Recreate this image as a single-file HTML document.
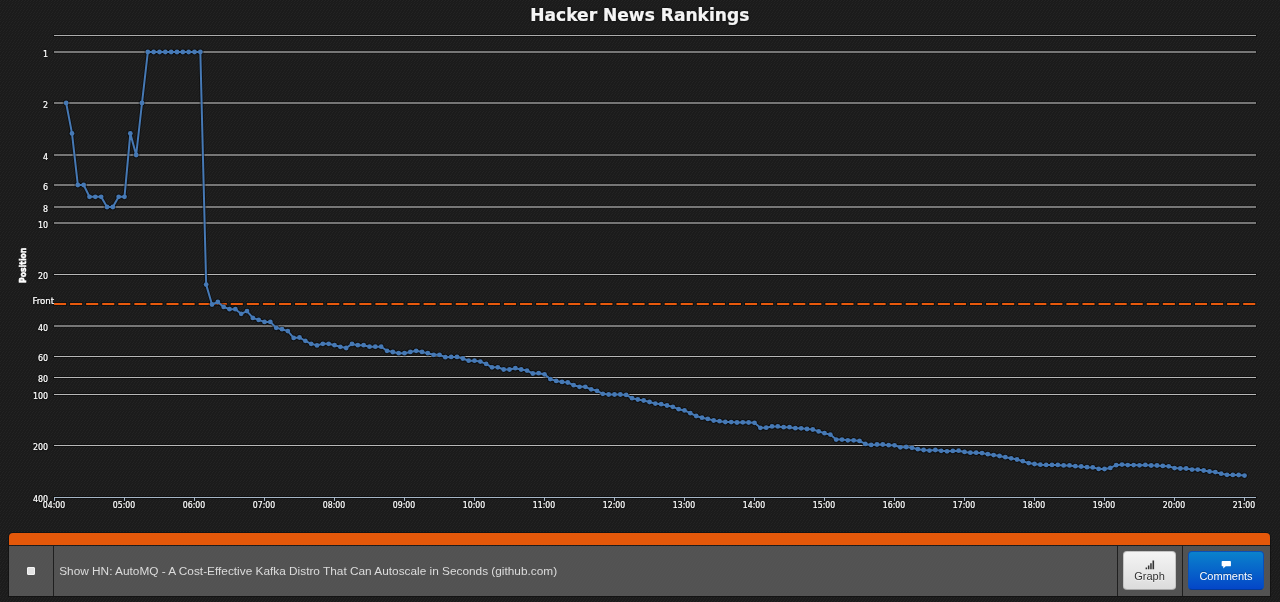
<!DOCTYPE html>
<html lang="en">
<head>
<meta charset="utf-8">
<title>Hacker News Rankings</title>
<style>
html,body{margin:0;padding:0}
body{position:relative;width:1280px;height:602px;overflow:hidden;background-color:#1d1d1d;
font-family:"Liberation Sans",Arial,Helvetica,sans-serif;font-size:13px;line-height:18px;color:#ddd}
.tex{position:absolute;left:0;top:0;display:block}
.chart{position:absolute;left:0;top:0;display:block;will-change:transform}
.chart text{stroke:#fff;stroke-width:.22px;filter:drop-shadow(0 0 .8px rgba(0,0,0,.9))}
.bar{position:absolute;left:9px;top:533px;width:1261px;height:63px;border-radius:4px 4px 0 0;box-shadow:0 0 0 1px #131313;will-change:transform}
.strip{position:absolute;left:0;top:0;width:100%;height:12px;background:#e4580a;border-radius:4px 4px 0 0}
.row{position:absolute;left:0;top:13px;width:100%;height:50px;background:rgba(92,92,92,.86)}
.cell{position:absolute;top:0;height:50px;border-left:1px solid #1f1f1f;box-sizing:border-box}
.c1{left:0;width:44px;border-left:0}
.c2{left:44px;width:1064px}
.c3{left:1108px;width:65px}
.c4{left:1173px;width:88px}
.chk{position:absolute;left:17.5px;top:20.5px;width:8.5px;height:8.5px;box-sizing:border-box;background:#e4e4e4;border:1px solid #f4f4f4;border-radius:1px}
.story{position:absolute;left:5.2px;top:15.5px;white-space:nowrap;color:#dcdcdc;font-size:11.84px;line-height:18px}
.btn{position:absolute;top:5px;height:39px;box-sizing:border-box;border-radius:4px;text-align:center;font-size:11px;line-height:16px}
.btn span{position:absolute;left:0;right:0;top:16px}
.btn svg{position:absolute;top:8px}
.b1{left:5px;width:53px;color:#333;text-shadow:0 1px 1px rgba(255,255,255,.75);background-image:linear-gradient(to bottom,#f4f4f4,#dcdcdc);border:1px solid #c4c4c4;border-bottom-color:#a8a8a8}
.b2{left:5px;width:76px;color:#fff;text-shadow:0 -1px 0 rgba(0,0,0,.25);background-image:linear-gradient(to bottom,#0a82cc,#0446c8);border:1px solid #0a50b8;border-bottom-color:#053a9a}
</style>
</head>
<body>
<svg class="tex" width="1280" height="602" shape-rendering="crispEdges">
<defs><pattern id="tw" width="6" height="6" patternUnits="userSpaceOnUse">
<rect width="6" height="6" fill="#1b1b1b"/>
<path fill="#1d1d1d" d="M1 2h1v1h-1zM2 2h1v1h-1zM4 2h1v1h-1zM5 2h1v1h-1zM1 5h1v1h-1zM2 5h1v1h-1zM4 5h1v1h-1zM5 5h1v1h-1z"/>
<path fill="#232323" d="M1 0h1v1h-1zM4 0h1v1h-1zM0 1h1v1h-1zM3 1h1v1h-1zM0 3h1v1h-1zM3 3h1v1h-1zM2 4h1v1h-1zM5 4h1v1h-1z"/>
</pattern></defs><rect width="1280" height="602" fill="url(#tw)"/></svg>
<svg class="chart" width="1280" height="528" viewBox="0 0 1280 528">
<text x="639.8" y="20.8" text-anchor="middle" font-family='"DejaVu Sans Condensed","DejaVu Sans","Liberation Sans",sans-serif' font-size="18" font-weight="bold" fill="#f4f4f4" textLength="219" lengthAdjust="spacingAndGlyphs">Hacker News Rankings</text>
<g stroke="#000" stroke-opacity=".38" stroke-width="3" fill="none">
<path d="M53.0 35.5H1257.0"/>
<path d="M53.0 52.00H1257.0"/>
<path d="M53.0 103.00H1257.0"/>
<path d="M53.0 155.00H1257.0"/>
<path d="M53.0 185.00H1257.0"/>
<path d="M53.0 207.00H1257.0"/>
<path d="M53.0 223.00H1257.0"/>
<path d="M53.0 274.50H1257.0"/>
<path d="M53.0 326.00H1257.0"/>
<path d="M53.0 356.50H1257.0"/>
<path d="M53.0 377.50H1257.0"/>
<path d="M53.0 394.50H1257.0"/>
<path d="M53.0 445.50H1257.0"/>
<path d="M53.0 497.5H1257.0"/>
</g>
<path d="M53.0 304.1H1257.0" stroke="#000" stroke-opacity=".38" stroke-width="4" stroke-dasharray="14.06,2.01" fill="none"/>
<g stroke="#b8b8b8" stroke-width="1" fill="none">
<path d="M54.0 35.5H1256.0" stroke="#adadad"/>
<path d="M54.0 52.00H1256.0" stroke="#dadada"/>
<path d="M54.0 103.00H1256.0" stroke="#dadada"/>
<path d="M54.0 155.00H1256.0" stroke="#dadada"/>
<path d="M54.0 185.00H1256.0" stroke="#dadada"/>
<path d="M54.0 207.00H1256.0" stroke="#dadada"/>
<path d="M54.0 223.00H1256.0" stroke="#dadada"/>
<path d="M54.0 274.50H1256.0"/>
<path d="M54.0 326.00H1256.0" stroke="#dadada"/>
<path d="M54.0 356.50H1256.0"/>
<path d="M54.0 377.50H1256.0"/>
<path d="M54.0 394.50H1256.0"/>
<path d="M54.0 445.50H1256.0"/>
</g>
<path d="M54.0 304.1H1256.0" stroke="#e8590c" stroke-width="2" stroke-dasharray="12.06,4.01" fill="none"/>
<g stroke="#a6b6c6" stroke-width="1" fill="none">
<path d="M54.0 497.5H1256.0"/>
<path d="M54.5 497.5V501"/>
<path d="M124.5 497.5V501"/>
<path d="M194.5 497.5V501"/>
<path d="M264.5 497.5V501"/>
<path d="M334.5 497.5V501"/>
<path d="M404.5 497.5V501"/>
<path d="M474.5 497.5V501"/>
<path d="M544.5 497.5V501"/>
<path d="M614.5 497.5V501"/>
<path d="M684.5 497.5V501"/>
<path d="M754.5 497.5V501"/>
<path d="M824.5 497.5V501"/>
<path d="M894.5 497.5V501"/>
<path d="M964.5 497.5V501"/>
<path d="M1034.5 497.5V501"/>
<path d="M1104.5 497.5V501"/>
<path d="M1174.5 497.5V501"/>
<path d="M1244.5 497.5V501"/>
</g>
<g font-family='"DejaVu Sans Condensed","DejaVu Sans","Liberation Sans",sans-serif' font-size="8.8" fill="#ffffff" text-anchor="end">
<text x="48" y="56.9">1</text>
<text x="48" y="107.9">2</text>
<text x="48" y="159.9">4</text>
<text x="48" y="189.9">6</text>
<text x="48" y="211.9">8</text>
<text x="48" y="227.9">10</text>
<text x="48" y="279.4">20</text>
<text x="48" y="330.9">40</text>
<text x="48" y="361.4">60</text>
<text x="48" y="382.4">80</text>
<text x="48" y="399.4">100</text>
<text x="48" y="450.4">200</text>
<text x="48" y="501.9">400</text>
</g>
<g font-family='"DejaVu Sans Condensed","DejaVu Sans","Liberation Sans",sans-serif' font-size="9" fill="#ffffff" text-anchor="middle">
<text x="54" y="508" textLength="22.4" lengthAdjust="spacingAndGlyphs">04:00</text>
<text x="124" y="508" textLength="22.4" lengthAdjust="spacingAndGlyphs">05:00</text>
<text x="194" y="508" textLength="22.4" lengthAdjust="spacingAndGlyphs">06:00</text>
<text x="264" y="508" textLength="22.4" lengthAdjust="spacingAndGlyphs">07:00</text>
<text x="334" y="508" textLength="22.4" lengthAdjust="spacingAndGlyphs">08:00</text>
<text x="404" y="508" textLength="22.4" lengthAdjust="spacingAndGlyphs">09:00</text>
<text x="474" y="508" textLength="22.4" lengthAdjust="spacingAndGlyphs">10:00</text>
<text x="544" y="508" textLength="22.4" lengthAdjust="spacingAndGlyphs">11:00</text>
<text x="614" y="508" textLength="22.4" lengthAdjust="spacingAndGlyphs">12:00</text>
<text x="684" y="508" textLength="22.4" lengthAdjust="spacingAndGlyphs">13:00</text>
<text x="754" y="508" textLength="22.4" lengthAdjust="spacingAndGlyphs">14:00</text>
<text x="824" y="508" textLength="22.4" lengthAdjust="spacingAndGlyphs">15:00</text>
<text x="894" y="508" textLength="22.4" lengthAdjust="spacingAndGlyphs">16:00</text>
<text x="964" y="508" textLength="22.4" lengthAdjust="spacingAndGlyphs">17:00</text>
<text x="1034" y="508" textLength="22.4" lengthAdjust="spacingAndGlyphs">18:00</text>
<text x="1104" y="508" textLength="22.4" lengthAdjust="spacingAndGlyphs">19:00</text>
<text x="1174" y="508" textLength="22.4" lengthAdjust="spacingAndGlyphs">20:00</text>
<text x="1244" y="508" textLength="22.4" lengthAdjust="spacingAndGlyphs">21:00</text>
</g>
<text transform="translate(26.2 265.3) rotate(-90)" text-anchor="middle" font-family='"DejaVu Sans Condensed","DejaVu Sans","Liberation Sans",sans-serif' font-size="9.5" font-weight="bold" fill="#ffffff" style="stroke-width:.5px;filter:none" textLength="35.3" lengthAdjust="spacingAndGlyphs">Position</text>
<text x="32.4" y="304.4" font-family='"DejaVu Sans Condensed","DejaVu Sans","Liberation Sans",sans-serif' font-size="9" fill="#ffffff" textLength="21.8" lengthAdjust="spacingAndGlyphs">Front</text>
<g fill="none" stroke="#000" stroke-opacity=".4" stroke-linejoin="round" stroke-linecap="round">
<path d="M66.17 103.00 L72.00 133.42 L77.83 185.00 L83.67 185.00 L89.50 196.79 L95.33 196.79 L101.17 196.79 L107.00 207.00 L112.83 207.00 L118.67 196.79 L124.50 196.79 L130.33 133.42 L136.17 155.00 L142.00 103.00 L147.83 52.00 L153.67 52.00 L159.50 52.00 L165.33 52.00 L171.17 52.00 L177.00 52.00 L182.83 52.00 L188.67 52.00 L194.50 52.00 L200.33 52.00 L206.17 284.60 L212.00 304.50 L217.83 302.00 L223.67 306.90 L229.50 309.20 L235.33 309.20 L241.17 313.80 L247.00 311.10 L252.83 317.90 L258.67 319.90 L264.50 321.90 L270.33 321.90 L276.17 327.80 L282.00 329.20 L287.83 331.10 L293.67 337.90 L299.50 337.50 L305.33 340.80 L311.17 343.80 L317.00 345.40 L322.83 343.80 L328.67 343.80 L334.50 345.20 L340.33 346.80 L346.17 348.00 L352.00 343.90 L357.83 345.20 L363.67 345.20 L369.50 346.70 L375.33 346.70 L381.17 346.70 L387.00 350.80 L392.83 352.00 L398.67 353.20 L404.50 353.20 L410.33 351.90 L416.17 350.80 L422.00 351.90 L427.83 353.20 L433.67 354.80 L439.50 354.80 L445.33 357.20 L451.17 356.90 L457.00 356.90 L462.83 358.50 L468.67 360.70 L474.50 360.70 L480.33 361.60 L486.17 363.90 L492.00 367.30 L497.83 367.30 L503.67 369.50 L509.50 369.50 L515.33 368.20 L521.17 369.50 L527.00 370.60 L532.83 373.50 L538.67 373.20 L544.50 374.30 L550.33 379.10 L556.17 380.90 L562.00 381.90 L567.83 382.50 L573.67 385.20 L579.50 386.80 L585.33 386.80 L591.17 389.30 L597.00 390.80 L602.83 393.80 L608.67 394.50 L614.50 394.50 L620.33 394.50 L626.17 394.90 L632.00 398.20 L637.83 399.50 L643.67 400.50 L649.50 402.00 L655.33 403.60 L661.17 404.20 L667.00 405.50 L672.83 406.80 L678.67 409.20 L684.50 410.40 L690.33 413.20 L696.17 416.00 L702.00 417.70 L707.83 418.90 L713.67 420.50 L719.50 421.20 L725.33 422.00 L731.17 422.10 L737.00 422.50 L742.83 422.30 L748.67 422.50 L754.50 422.80 L760.33 427.80 L766.17 427.70 L772.00 426.40 L777.83 426.40 L783.67 427.20 L789.50 427.20 L795.33 428.20 L801.17 428.30 L807.00 429.00 L812.83 429.50 L818.67 431.40 L824.50 433.20 L830.33 434.60 L836.17 439.60 L842.00 439.60 L847.83 440.30 L853.67 440.30 L859.50 440.90 L865.33 443.90 L871.17 444.90 L877.00 444.50 L882.83 444.50 L888.67 445.20 L894.50 445.30 L900.33 447.30 L906.17 447.00 L912.00 447.80 L917.83 449.20 L923.67 450.00 L929.50 450.60 L935.33 450.00 L941.17 450.80 L947.00 451.30 L952.83 450.90 L958.67 450.70 L964.50 451.90 L970.33 452.70 L976.17 452.70 L982.00 453.10 L987.83 454.20 L993.67 455.10 L999.50 456.00 L1005.33 457.20 L1011.17 458.30 L1017.00 459.50 L1022.83 461.20 L1028.67 463.10 L1034.50 464.00 L1040.33 464.70 L1046.17 464.90 L1052.00 464.90 L1057.83 464.90 L1063.67 465.40 L1069.50 465.40 L1075.33 466.20 L1081.17 466.50 L1087.00 467.20 L1092.83 467.40 L1098.67 468.90 L1104.50 469.00 L1110.33 467.90 L1116.17 465.20 L1122.00 464.60 L1127.83 465.10 L1133.67 465.10 L1139.50 465.30 L1145.33 464.90 L1151.17 465.50 L1157.00 465.50 L1162.83 465.90 L1168.67 466.30 L1174.50 468.10 L1180.33 468.50 L1186.17 468.50 L1192.00 469.60 L1197.83 469.60 L1203.67 470.50 L1209.50 471.50 L1215.33 472.10 L1221.17 473.70 L1227.00 474.80 L1232.83 474.90 L1238.67 475.00 L1244.50 475.60" stroke-width="4"/>
</g>
<g fill="#000" fill-opacity=".4">
<circle cx="66.17" cy="103.00" r="3.4"/>
<circle cx="72.00" cy="133.42" r="3.4"/>
<circle cx="77.83" cy="185.00" r="3.4"/>
<circle cx="83.67" cy="185.00" r="3.4"/>
<circle cx="89.50" cy="196.79" r="3.4"/>
<circle cx="95.33" cy="196.79" r="3.4"/>
<circle cx="101.17" cy="196.79" r="3.4"/>
<circle cx="107.00" cy="207.00" r="3.4"/>
<circle cx="112.83" cy="207.00" r="3.4"/>
<circle cx="118.67" cy="196.79" r="3.4"/>
<circle cx="124.50" cy="196.79" r="3.4"/>
<circle cx="130.33" cy="133.42" r="3.4"/>
<circle cx="136.17" cy="155.00" r="3.4"/>
<circle cx="142.00" cy="103.00" r="3.4"/>
<circle cx="147.83" cy="52.00" r="3.4"/>
<circle cx="153.67" cy="52.00" r="3.4"/>
<circle cx="159.50" cy="52.00" r="3.4"/>
<circle cx="165.33" cy="52.00" r="3.4"/>
<circle cx="171.17" cy="52.00" r="3.4"/>
<circle cx="177.00" cy="52.00" r="3.4"/>
<circle cx="182.83" cy="52.00" r="3.4"/>
<circle cx="188.67" cy="52.00" r="3.4"/>
<circle cx="194.50" cy="52.00" r="3.4"/>
<circle cx="200.33" cy="52.00" r="3.4"/>
<circle cx="206.17" cy="284.60" r="3.4"/>
<circle cx="212.00" cy="304.50" r="3.4"/>
<circle cx="217.83" cy="302.00" r="3.4"/>
<circle cx="223.67" cy="306.90" r="3.4"/>
<circle cx="229.50" cy="309.20" r="3.4"/>
<circle cx="235.33" cy="309.20" r="3.4"/>
<circle cx="241.17" cy="313.80" r="3.4"/>
<circle cx="247.00" cy="311.10" r="3.4"/>
<circle cx="252.83" cy="317.90" r="3.4"/>
<circle cx="258.67" cy="319.90" r="3.4"/>
<circle cx="264.50" cy="321.90" r="3.4"/>
<circle cx="270.33" cy="321.90" r="3.4"/>
<circle cx="276.17" cy="327.80" r="3.4"/>
<circle cx="282.00" cy="329.20" r="3.4"/>
<circle cx="287.83" cy="331.10" r="3.4"/>
<circle cx="293.67" cy="337.90" r="3.4"/>
<circle cx="299.50" cy="337.50" r="3.4"/>
<circle cx="305.33" cy="340.80" r="3.4"/>
<circle cx="311.17" cy="343.80" r="3.4"/>
<circle cx="317.00" cy="345.40" r="3.4"/>
<circle cx="322.83" cy="343.80" r="3.4"/>
<circle cx="328.67" cy="343.80" r="3.4"/>
<circle cx="334.50" cy="345.20" r="3.4"/>
<circle cx="340.33" cy="346.80" r="3.4"/>
<circle cx="346.17" cy="348.00" r="3.4"/>
<circle cx="352.00" cy="343.90" r="3.4"/>
<circle cx="357.83" cy="345.20" r="3.4"/>
<circle cx="363.67" cy="345.20" r="3.4"/>
<circle cx="369.50" cy="346.70" r="3.4"/>
<circle cx="375.33" cy="346.70" r="3.4"/>
<circle cx="381.17" cy="346.70" r="3.4"/>
<circle cx="387.00" cy="350.80" r="3.4"/>
<circle cx="392.83" cy="352.00" r="3.4"/>
<circle cx="398.67" cy="353.20" r="3.4"/>
<circle cx="404.50" cy="353.20" r="3.4"/>
<circle cx="410.33" cy="351.90" r="3.4"/>
<circle cx="416.17" cy="350.80" r="3.4"/>
<circle cx="422.00" cy="351.90" r="3.4"/>
<circle cx="427.83" cy="353.20" r="3.4"/>
<circle cx="433.67" cy="354.80" r="3.4"/>
<circle cx="439.50" cy="354.80" r="3.4"/>
<circle cx="445.33" cy="357.20" r="3.4"/>
<circle cx="451.17" cy="356.90" r="3.4"/>
<circle cx="457.00" cy="356.90" r="3.4"/>
<circle cx="462.83" cy="358.50" r="3.4"/>
<circle cx="468.67" cy="360.70" r="3.4"/>
<circle cx="474.50" cy="360.70" r="3.4"/>
<circle cx="480.33" cy="361.60" r="3.4"/>
<circle cx="486.17" cy="363.90" r="3.4"/>
<circle cx="492.00" cy="367.30" r="3.4"/>
<circle cx="497.83" cy="367.30" r="3.4"/>
<circle cx="503.67" cy="369.50" r="3.4"/>
<circle cx="509.50" cy="369.50" r="3.4"/>
<circle cx="515.33" cy="368.20" r="3.4"/>
<circle cx="521.17" cy="369.50" r="3.4"/>
<circle cx="527.00" cy="370.60" r="3.4"/>
<circle cx="532.83" cy="373.50" r="3.4"/>
<circle cx="538.67" cy="373.20" r="3.4"/>
<circle cx="544.50" cy="374.30" r="3.4"/>
<circle cx="550.33" cy="379.10" r="3.4"/>
<circle cx="556.17" cy="380.90" r="3.4"/>
<circle cx="562.00" cy="381.90" r="3.4"/>
<circle cx="567.83" cy="382.50" r="3.4"/>
<circle cx="573.67" cy="385.20" r="3.4"/>
<circle cx="579.50" cy="386.80" r="3.4"/>
<circle cx="585.33" cy="386.80" r="3.4"/>
<circle cx="591.17" cy="389.30" r="3.4"/>
<circle cx="597.00" cy="390.80" r="3.4"/>
<circle cx="602.83" cy="393.80" r="3.4"/>
<circle cx="608.67" cy="394.50" r="3.4"/>
<circle cx="614.50" cy="394.50" r="3.4"/>
<circle cx="620.33" cy="394.50" r="3.4"/>
<circle cx="626.17" cy="394.90" r="3.4"/>
<circle cx="632.00" cy="398.20" r="3.4"/>
<circle cx="637.83" cy="399.50" r="3.4"/>
<circle cx="643.67" cy="400.50" r="3.4"/>
<circle cx="649.50" cy="402.00" r="3.4"/>
<circle cx="655.33" cy="403.60" r="3.4"/>
<circle cx="661.17" cy="404.20" r="3.4"/>
<circle cx="667.00" cy="405.50" r="3.4"/>
<circle cx="672.83" cy="406.80" r="3.4"/>
<circle cx="678.67" cy="409.20" r="3.4"/>
<circle cx="684.50" cy="410.40" r="3.4"/>
<circle cx="690.33" cy="413.20" r="3.4"/>
<circle cx="696.17" cy="416.00" r="3.4"/>
<circle cx="702.00" cy="417.70" r="3.4"/>
<circle cx="707.83" cy="418.90" r="3.4"/>
<circle cx="713.67" cy="420.50" r="3.4"/>
<circle cx="719.50" cy="421.20" r="3.4"/>
<circle cx="725.33" cy="422.00" r="3.4"/>
<circle cx="731.17" cy="422.10" r="3.4"/>
<circle cx="737.00" cy="422.50" r="3.4"/>
<circle cx="742.83" cy="422.30" r="3.4"/>
<circle cx="748.67" cy="422.50" r="3.4"/>
<circle cx="754.50" cy="422.80" r="3.4"/>
<circle cx="760.33" cy="427.80" r="3.4"/>
<circle cx="766.17" cy="427.70" r="3.4"/>
<circle cx="772.00" cy="426.40" r="3.4"/>
<circle cx="777.83" cy="426.40" r="3.4"/>
<circle cx="783.67" cy="427.20" r="3.4"/>
<circle cx="789.50" cy="427.20" r="3.4"/>
<circle cx="795.33" cy="428.20" r="3.4"/>
<circle cx="801.17" cy="428.30" r="3.4"/>
<circle cx="807.00" cy="429.00" r="3.4"/>
<circle cx="812.83" cy="429.50" r="3.4"/>
<circle cx="818.67" cy="431.40" r="3.4"/>
<circle cx="824.50" cy="433.20" r="3.4"/>
<circle cx="830.33" cy="434.60" r="3.4"/>
<circle cx="836.17" cy="439.60" r="3.4"/>
<circle cx="842.00" cy="439.60" r="3.4"/>
<circle cx="847.83" cy="440.30" r="3.4"/>
<circle cx="853.67" cy="440.30" r="3.4"/>
<circle cx="859.50" cy="440.90" r="3.4"/>
<circle cx="865.33" cy="443.90" r="3.4"/>
<circle cx="871.17" cy="444.90" r="3.4"/>
<circle cx="877.00" cy="444.50" r="3.4"/>
<circle cx="882.83" cy="444.50" r="3.4"/>
<circle cx="888.67" cy="445.20" r="3.4"/>
<circle cx="894.50" cy="445.30" r="3.4"/>
<circle cx="900.33" cy="447.30" r="3.4"/>
<circle cx="906.17" cy="447.00" r="3.4"/>
<circle cx="912.00" cy="447.80" r="3.4"/>
<circle cx="917.83" cy="449.20" r="3.4"/>
<circle cx="923.67" cy="450.00" r="3.4"/>
<circle cx="929.50" cy="450.60" r="3.4"/>
<circle cx="935.33" cy="450.00" r="3.4"/>
<circle cx="941.17" cy="450.80" r="3.4"/>
<circle cx="947.00" cy="451.30" r="3.4"/>
<circle cx="952.83" cy="450.90" r="3.4"/>
<circle cx="958.67" cy="450.70" r="3.4"/>
<circle cx="964.50" cy="451.90" r="3.4"/>
<circle cx="970.33" cy="452.70" r="3.4"/>
<circle cx="976.17" cy="452.70" r="3.4"/>
<circle cx="982.00" cy="453.10" r="3.4"/>
<circle cx="987.83" cy="454.20" r="3.4"/>
<circle cx="993.67" cy="455.10" r="3.4"/>
<circle cx="999.50" cy="456.00" r="3.4"/>
<circle cx="1005.33" cy="457.20" r="3.4"/>
<circle cx="1011.17" cy="458.30" r="3.4"/>
<circle cx="1017.00" cy="459.50" r="3.4"/>
<circle cx="1022.83" cy="461.20" r="3.4"/>
<circle cx="1028.67" cy="463.10" r="3.4"/>
<circle cx="1034.50" cy="464.00" r="3.4"/>
<circle cx="1040.33" cy="464.70" r="3.4"/>
<circle cx="1046.17" cy="464.90" r="3.4"/>
<circle cx="1052.00" cy="464.90" r="3.4"/>
<circle cx="1057.83" cy="464.90" r="3.4"/>
<circle cx="1063.67" cy="465.40" r="3.4"/>
<circle cx="1069.50" cy="465.40" r="3.4"/>
<circle cx="1075.33" cy="466.20" r="3.4"/>
<circle cx="1081.17" cy="466.50" r="3.4"/>
<circle cx="1087.00" cy="467.20" r="3.4"/>
<circle cx="1092.83" cy="467.40" r="3.4"/>
<circle cx="1098.67" cy="468.90" r="3.4"/>
<circle cx="1104.50" cy="469.00" r="3.4"/>
<circle cx="1110.33" cy="467.90" r="3.4"/>
<circle cx="1116.17" cy="465.20" r="3.4"/>
<circle cx="1122.00" cy="464.60" r="3.4"/>
<circle cx="1127.83" cy="465.10" r="3.4"/>
<circle cx="1133.67" cy="465.10" r="3.4"/>
<circle cx="1139.50" cy="465.30" r="3.4"/>
<circle cx="1145.33" cy="464.90" r="3.4"/>
<circle cx="1151.17" cy="465.50" r="3.4"/>
<circle cx="1157.00" cy="465.50" r="3.4"/>
<circle cx="1162.83" cy="465.90" r="3.4"/>
<circle cx="1168.67" cy="466.30" r="3.4"/>
<circle cx="1174.50" cy="468.10" r="3.4"/>
<circle cx="1180.33" cy="468.50" r="3.4"/>
<circle cx="1186.17" cy="468.50" r="3.4"/>
<circle cx="1192.00" cy="469.60" r="3.4"/>
<circle cx="1197.83" cy="469.60" r="3.4"/>
<circle cx="1203.67" cy="470.50" r="3.4"/>
<circle cx="1209.50" cy="471.50" r="3.4"/>
<circle cx="1215.33" cy="472.10" r="3.4"/>
<circle cx="1221.17" cy="473.70" r="3.4"/>
<circle cx="1227.00" cy="474.80" r="3.4"/>
<circle cx="1232.83" cy="474.90" r="3.4"/>
<circle cx="1238.67" cy="475.00" r="3.4"/>
<circle cx="1244.50" cy="475.60" r="3.4"/>
</g>
<path d="M66.17 103.00 L72.00 133.42 L77.83 185.00 L83.67 185.00 L89.50 196.79 L95.33 196.79 L101.17 196.79 L107.00 207.00 L112.83 207.00 L118.67 196.79 L124.50 196.79 L130.33 133.42 L136.17 155.00 L142.00 103.00 L147.83 52.00 L153.67 52.00 L159.50 52.00 L165.33 52.00 L171.17 52.00 L177.00 52.00 L182.83 52.00 L188.67 52.00 L194.50 52.00 L200.33 52.00 L206.17 284.60 L212.00 304.50 L217.83 302.00 L223.67 306.90 L229.50 309.20 L235.33 309.20 L241.17 313.80 L247.00 311.10 L252.83 317.90 L258.67 319.90 L264.50 321.90 L270.33 321.90 L276.17 327.80 L282.00 329.20 L287.83 331.10 L293.67 337.90 L299.50 337.50 L305.33 340.80 L311.17 343.80 L317.00 345.40 L322.83 343.80 L328.67 343.80 L334.50 345.20 L340.33 346.80 L346.17 348.00 L352.00 343.90 L357.83 345.20 L363.67 345.20 L369.50 346.70 L375.33 346.70 L381.17 346.70 L387.00 350.80 L392.83 352.00 L398.67 353.20 L404.50 353.20 L410.33 351.90 L416.17 350.80 L422.00 351.90 L427.83 353.20 L433.67 354.80 L439.50 354.80 L445.33 357.20 L451.17 356.90 L457.00 356.90 L462.83 358.50 L468.67 360.70 L474.50 360.70 L480.33 361.60 L486.17 363.90 L492.00 367.30 L497.83 367.30 L503.67 369.50 L509.50 369.50 L515.33 368.20 L521.17 369.50 L527.00 370.60 L532.83 373.50 L538.67 373.20 L544.50 374.30 L550.33 379.10 L556.17 380.90 L562.00 381.90 L567.83 382.50 L573.67 385.20 L579.50 386.80 L585.33 386.80 L591.17 389.30 L597.00 390.80 L602.83 393.80 L608.67 394.50 L614.50 394.50 L620.33 394.50 L626.17 394.90 L632.00 398.20 L637.83 399.50 L643.67 400.50 L649.50 402.00 L655.33 403.60 L661.17 404.20 L667.00 405.50 L672.83 406.80 L678.67 409.20 L684.50 410.40 L690.33 413.20 L696.17 416.00 L702.00 417.70 L707.83 418.90 L713.67 420.50 L719.50 421.20 L725.33 422.00 L731.17 422.10 L737.00 422.50 L742.83 422.30 L748.67 422.50 L754.50 422.80 L760.33 427.80 L766.17 427.70 L772.00 426.40 L777.83 426.40 L783.67 427.20 L789.50 427.20 L795.33 428.20 L801.17 428.30 L807.00 429.00 L812.83 429.50 L818.67 431.40 L824.50 433.20 L830.33 434.60 L836.17 439.60 L842.00 439.60 L847.83 440.30 L853.67 440.30 L859.50 440.90 L865.33 443.90 L871.17 444.90 L877.00 444.50 L882.83 444.50 L888.67 445.20 L894.50 445.30 L900.33 447.30 L906.17 447.00 L912.00 447.80 L917.83 449.20 L923.67 450.00 L929.50 450.60 L935.33 450.00 L941.17 450.80 L947.00 451.30 L952.83 450.90 L958.67 450.70 L964.50 451.90 L970.33 452.70 L976.17 452.70 L982.00 453.10 L987.83 454.20 L993.67 455.10 L999.50 456.00 L1005.33 457.20 L1011.17 458.30 L1017.00 459.50 L1022.83 461.20 L1028.67 463.10 L1034.50 464.00 L1040.33 464.70 L1046.17 464.90 L1052.00 464.90 L1057.83 464.90 L1063.67 465.40 L1069.50 465.40 L1075.33 466.20 L1081.17 466.50 L1087.00 467.20 L1092.83 467.40 L1098.67 468.90 L1104.50 469.00 L1110.33 467.90 L1116.17 465.20 L1122.00 464.60 L1127.83 465.10 L1133.67 465.10 L1139.50 465.30 L1145.33 464.90 L1151.17 465.50 L1157.00 465.50 L1162.83 465.90 L1168.67 466.30 L1174.50 468.10 L1180.33 468.50 L1186.17 468.50 L1192.00 469.60 L1197.83 469.60 L1203.67 470.50 L1209.50 471.50 L1215.33 472.10 L1221.17 473.70 L1227.00 474.80 L1232.83 474.90 L1238.67 475.00 L1244.50 475.60" fill="none" stroke="#4679b5" stroke-width="2" stroke-linejoin="round" stroke-linecap="round"/>
<g fill="#4679b5">
<circle cx="66.17" cy="103.00" r="2.4"/>
<circle cx="72.00" cy="133.42" r="2.4"/>
<circle cx="77.83" cy="185.00" r="2.4"/>
<circle cx="83.67" cy="185.00" r="2.4"/>
<circle cx="89.50" cy="196.79" r="2.4"/>
<circle cx="95.33" cy="196.79" r="2.4"/>
<circle cx="101.17" cy="196.79" r="2.4"/>
<circle cx="107.00" cy="207.00" r="2.4"/>
<circle cx="112.83" cy="207.00" r="2.4"/>
<circle cx="118.67" cy="196.79" r="2.4"/>
<circle cx="124.50" cy="196.79" r="2.4"/>
<circle cx="130.33" cy="133.42" r="2.4"/>
<circle cx="136.17" cy="155.00" r="2.4"/>
<circle cx="142.00" cy="103.00" r="2.4"/>
<circle cx="147.83" cy="52.00" r="2.4"/>
<circle cx="153.67" cy="52.00" r="2.4"/>
<circle cx="159.50" cy="52.00" r="2.4"/>
<circle cx="165.33" cy="52.00" r="2.4"/>
<circle cx="171.17" cy="52.00" r="2.4"/>
<circle cx="177.00" cy="52.00" r="2.4"/>
<circle cx="182.83" cy="52.00" r="2.4"/>
<circle cx="188.67" cy="52.00" r="2.4"/>
<circle cx="194.50" cy="52.00" r="2.4"/>
<circle cx="200.33" cy="52.00" r="2.4"/>
<circle cx="206.17" cy="284.60" r="2.4"/>
<circle cx="212.00" cy="304.50" r="2.4"/>
<circle cx="217.83" cy="302.00" r="2.4"/>
<circle cx="223.67" cy="306.90" r="2.4"/>
<circle cx="229.50" cy="309.20" r="2.4"/>
<circle cx="235.33" cy="309.20" r="2.4"/>
<circle cx="241.17" cy="313.80" r="2.4"/>
<circle cx="247.00" cy="311.10" r="2.4"/>
<circle cx="252.83" cy="317.90" r="2.4"/>
<circle cx="258.67" cy="319.90" r="2.4"/>
<circle cx="264.50" cy="321.90" r="2.4"/>
<circle cx="270.33" cy="321.90" r="2.4"/>
<circle cx="276.17" cy="327.80" r="2.4"/>
<circle cx="282.00" cy="329.20" r="2.4"/>
<circle cx="287.83" cy="331.10" r="2.4"/>
<circle cx="293.67" cy="337.90" r="2.4"/>
<circle cx="299.50" cy="337.50" r="2.4"/>
<circle cx="305.33" cy="340.80" r="2.4"/>
<circle cx="311.17" cy="343.80" r="2.4"/>
<circle cx="317.00" cy="345.40" r="2.4"/>
<circle cx="322.83" cy="343.80" r="2.4"/>
<circle cx="328.67" cy="343.80" r="2.4"/>
<circle cx="334.50" cy="345.20" r="2.4"/>
<circle cx="340.33" cy="346.80" r="2.4"/>
<circle cx="346.17" cy="348.00" r="2.4"/>
<circle cx="352.00" cy="343.90" r="2.4"/>
<circle cx="357.83" cy="345.20" r="2.4"/>
<circle cx="363.67" cy="345.20" r="2.4"/>
<circle cx="369.50" cy="346.70" r="2.4"/>
<circle cx="375.33" cy="346.70" r="2.4"/>
<circle cx="381.17" cy="346.70" r="2.4"/>
<circle cx="387.00" cy="350.80" r="2.4"/>
<circle cx="392.83" cy="352.00" r="2.4"/>
<circle cx="398.67" cy="353.20" r="2.4"/>
<circle cx="404.50" cy="353.20" r="2.4"/>
<circle cx="410.33" cy="351.90" r="2.4"/>
<circle cx="416.17" cy="350.80" r="2.4"/>
<circle cx="422.00" cy="351.90" r="2.4"/>
<circle cx="427.83" cy="353.20" r="2.4"/>
<circle cx="433.67" cy="354.80" r="2.4"/>
<circle cx="439.50" cy="354.80" r="2.4"/>
<circle cx="445.33" cy="357.20" r="2.4"/>
<circle cx="451.17" cy="356.90" r="2.4"/>
<circle cx="457.00" cy="356.90" r="2.4"/>
<circle cx="462.83" cy="358.50" r="2.4"/>
<circle cx="468.67" cy="360.70" r="2.4"/>
<circle cx="474.50" cy="360.70" r="2.4"/>
<circle cx="480.33" cy="361.60" r="2.4"/>
<circle cx="486.17" cy="363.90" r="2.4"/>
<circle cx="492.00" cy="367.30" r="2.4"/>
<circle cx="497.83" cy="367.30" r="2.4"/>
<circle cx="503.67" cy="369.50" r="2.4"/>
<circle cx="509.50" cy="369.50" r="2.4"/>
<circle cx="515.33" cy="368.20" r="2.4"/>
<circle cx="521.17" cy="369.50" r="2.4"/>
<circle cx="527.00" cy="370.60" r="2.4"/>
<circle cx="532.83" cy="373.50" r="2.4"/>
<circle cx="538.67" cy="373.20" r="2.4"/>
<circle cx="544.50" cy="374.30" r="2.4"/>
<circle cx="550.33" cy="379.10" r="2.4"/>
<circle cx="556.17" cy="380.90" r="2.4"/>
<circle cx="562.00" cy="381.90" r="2.4"/>
<circle cx="567.83" cy="382.50" r="2.4"/>
<circle cx="573.67" cy="385.20" r="2.4"/>
<circle cx="579.50" cy="386.80" r="2.4"/>
<circle cx="585.33" cy="386.80" r="2.4"/>
<circle cx="591.17" cy="389.30" r="2.4"/>
<circle cx="597.00" cy="390.80" r="2.4"/>
<circle cx="602.83" cy="393.80" r="2.4"/>
<circle cx="608.67" cy="394.50" r="2.4"/>
<circle cx="614.50" cy="394.50" r="2.4"/>
<circle cx="620.33" cy="394.50" r="2.4"/>
<circle cx="626.17" cy="394.90" r="2.4"/>
<circle cx="632.00" cy="398.20" r="2.4"/>
<circle cx="637.83" cy="399.50" r="2.4"/>
<circle cx="643.67" cy="400.50" r="2.4"/>
<circle cx="649.50" cy="402.00" r="2.4"/>
<circle cx="655.33" cy="403.60" r="2.4"/>
<circle cx="661.17" cy="404.20" r="2.4"/>
<circle cx="667.00" cy="405.50" r="2.4"/>
<circle cx="672.83" cy="406.80" r="2.4"/>
<circle cx="678.67" cy="409.20" r="2.4"/>
<circle cx="684.50" cy="410.40" r="2.4"/>
<circle cx="690.33" cy="413.20" r="2.4"/>
<circle cx="696.17" cy="416.00" r="2.4"/>
<circle cx="702.00" cy="417.70" r="2.4"/>
<circle cx="707.83" cy="418.90" r="2.4"/>
<circle cx="713.67" cy="420.50" r="2.4"/>
<circle cx="719.50" cy="421.20" r="2.4"/>
<circle cx="725.33" cy="422.00" r="2.4"/>
<circle cx="731.17" cy="422.10" r="2.4"/>
<circle cx="737.00" cy="422.50" r="2.4"/>
<circle cx="742.83" cy="422.30" r="2.4"/>
<circle cx="748.67" cy="422.50" r="2.4"/>
<circle cx="754.50" cy="422.80" r="2.4"/>
<circle cx="760.33" cy="427.80" r="2.4"/>
<circle cx="766.17" cy="427.70" r="2.4"/>
<circle cx="772.00" cy="426.40" r="2.4"/>
<circle cx="777.83" cy="426.40" r="2.4"/>
<circle cx="783.67" cy="427.20" r="2.4"/>
<circle cx="789.50" cy="427.20" r="2.4"/>
<circle cx="795.33" cy="428.20" r="2.4"/>
<circle cx="801.17" cy="428.30" r="2.4"/>
<circle cx="807.00" cy="429.00" r="2.4"/>
<circle cx="812.83" cy="429.50" r="2.4"/>
<circle cx="818.67" cy="431.40" r="2.4"/>
<circle cx="824.50" cy="433.20" r="2.4"/>
<circle cx="830.33" cy="434.60" r="2.4"/>
<circle cx="836.17" cy="439.60" r="2.4"/>
<circle cx="842.00" cy="439.60" r="2.4"/>
<circle cx="847.83" cy="440.30" r="2.4"/>
<circle cx="853.67" cy="440.30" r="2.4"/>
<circle cx="859.50" cy="440.90" r="2.4"/>
<circle cx="865.33" cy="443.90" r="2.4"/>
<circle cx="871.17" cy="444.90" r="2.4"/>
<circle cx="877.00" cy="444.50" r="2.4"/>
<circle cx="882.83" cy="444.50" r="2.4"/>
<circle cx="888.67" cy="445.20" r="2.4"/>
<circle cx="894.50" cy="445.30" r="2.4"/>
<circle cx="900.33" cy="447.30" r="2.4"/>
<circle cx="906.17" cy="447.00" r="2.4"/>
<circle cx="912.00" cy="447.80" r="2.4"/>
<circle cx="917.83" cy="449.20" r="2.4"/>
<circle cx="923.67" cy="450.00" r="2.4"/>
<circle cx="929.50" cy="450.60" r="2.4"/>
<circle cx="935.33" cy="450.00" r="2.4"/>
<circle cx="941.17" cy="450.80" r="2.4"/>
<circle cx="947.00" cy="451.30" r="2.4"/>
<circle cx="952.83" cy="450.90" r="2.4"/>
<circle cx="958.67" cy="450.70" r="2.4"/>
<circle cx="964.50" cy="451.90" r="2.4"/>
<circle cx="970.33" cy="452.70" r="2.4"/>
<circle cx="976.17" cy="452.70" r="2.4"/>
<circle cx="982.00" cy="453.10" r="2.4"/>
<circle cx="987.83" cy="454.20" r="2.4"/>
<circle cx="993.67" cy="455.10" r="2.4"/>
<circle cx="999.50" cy="456.00" r="2.4"/>
<circle cx="1005.33" cy="457.20" r="2.4"/>
<circle cx="1011.17" cy="458.30" r="2.4"/>
<circle cx="1017.00" cy="459.50" r="2.4"/>
<circle cx="1022.83" cy="461.20" r="2.4"/>
<circle cx="1028.67" cy="463.10" r="2.4"/>
<circle cx="1034.50" cy="464.00" r="2.4"/>
<circle cx="1040.33" cy="464.70" r="2.4"/>
<circle cx="1046.17" cy="464.90" r="2.4"/>
<circle cx="1052.00" cy="464.90" r="2.4"/>
<circle cx="1057.83" cy="464.90" r="2.4"/>
<circle cx="1063.67" cy="465.40" r="2.4"/>
<circle cx="1069.50" cy="465.40" r="2.4"/>
<circle cx="1075.33" cy="466.20" r="2.4"/>
<circle cx="1081.17" cy="466.50" r="2.4"/>
<circle cx="1087.00" cy="467.20" r="2.4"/>
<circle cx="1092.83" cy="467.40" r="2.4"/>
<circle cx="1098.67" cy="468.90" r="2.4"/>
<circle cx="1104.50" cy="469.00" r="2.4"/>
<circle cx="1110.33" cy="467.90" r="2.4"/>
<circle cx="1116.17" cy="465.20" r="2.4"/>
<circle cx="1122.00" cy="464.60" r="2.4"/>
<circle cx="1127.83" cy="465.10" r="2.4"/>
<circle cx="1133.67" cy="465.10" r="2.4"/>
<circle cx="1139.50" cy="465.30" r="2.4"/>
<circle cx="1145.33" cy="464.90" r="2.4"/>
<circle cx="1151.17" cy="465.50" r="2.4"/>
<circle cx="1157.00" cy="465.50" r="2.4"/>
<circle cx="1162.83" cy="465.90" r="2.4"/>
<circle cx="1168.67" cy="466.30" r="2.4"/>
<circle cx="1174.50" cy="468.10" r="2.4"/>
<circle cx="1180.33" cy="468.50" r="2.4"/>
<circle cx="1186.17" cy="468.50" r="2.4"/>
<circle cx="1192.00" cy="469.60" r="2.4"/>
<circle cx="1197.83" cy="469.60" r="2.4"/>
<circle cx="1203.67" cy="470.50" r="2.4"/>
<circle cx="1209.50" cy="471.50" r="2.4"/>
<circle cx="1215.33" cy="472.10" r="2.4"/>
<circle cx="1221.17" cy="473.70" r="2.4"/>
<circle cx="1227.00" cy="474.80" r="2.4"/>
<circle cx="1232.83" cy="474.90" r="2.4"/>
<circle cx="1238.67" cy="475.00" r="2.4"/>
<circle cx="1244.50" cy="475.60" r="2.4"/>
</g>
</svg>
<div class="bar">
  <div class="strip"></div>
  <div class="row">
    <div class="cell c1"><div class="chk"></div></div>
    <div class="cell c2"><div class="story">Show HN: AutoMQ - A Cost-Effective Kafka Distro That Can Autoscale in Seconds (github.com)</div></div>
    <div class="cell c3"><div class="btn b1">
      <svg width="10" height="10" viewBox="0 0 10 10" style="left:21px"><path fill="#333" d="M0.6 7.4h1.5v1.8H0.6z M2.9 5.6h1.5v3.6H2.9z M5.2 3.2h1.5v6H5.2z M7.5 0.4h1.6v8.8H7.5z"/></svg>
      <span>Graph</span></div></div>
    <div class="cell c4"><div class="btn b2">
      <svg width="10.4" height="9.5" viewBox="0 0 11 10" style="left:32px"><path fill="#fff" d="M1.6 0.9h8a.9.9 0 0 1 .9.9v3.9a.9.9 0 0 1-.9.9H5L2.4 8.9V6.6H1.6a.9.9 0 0 1-.9-.9V1.8a.9.9 0 0 1 .9-.9z"/></svg>
      <span>Comments</span></div></div>
  </div>
</div>
</body>
</html>
